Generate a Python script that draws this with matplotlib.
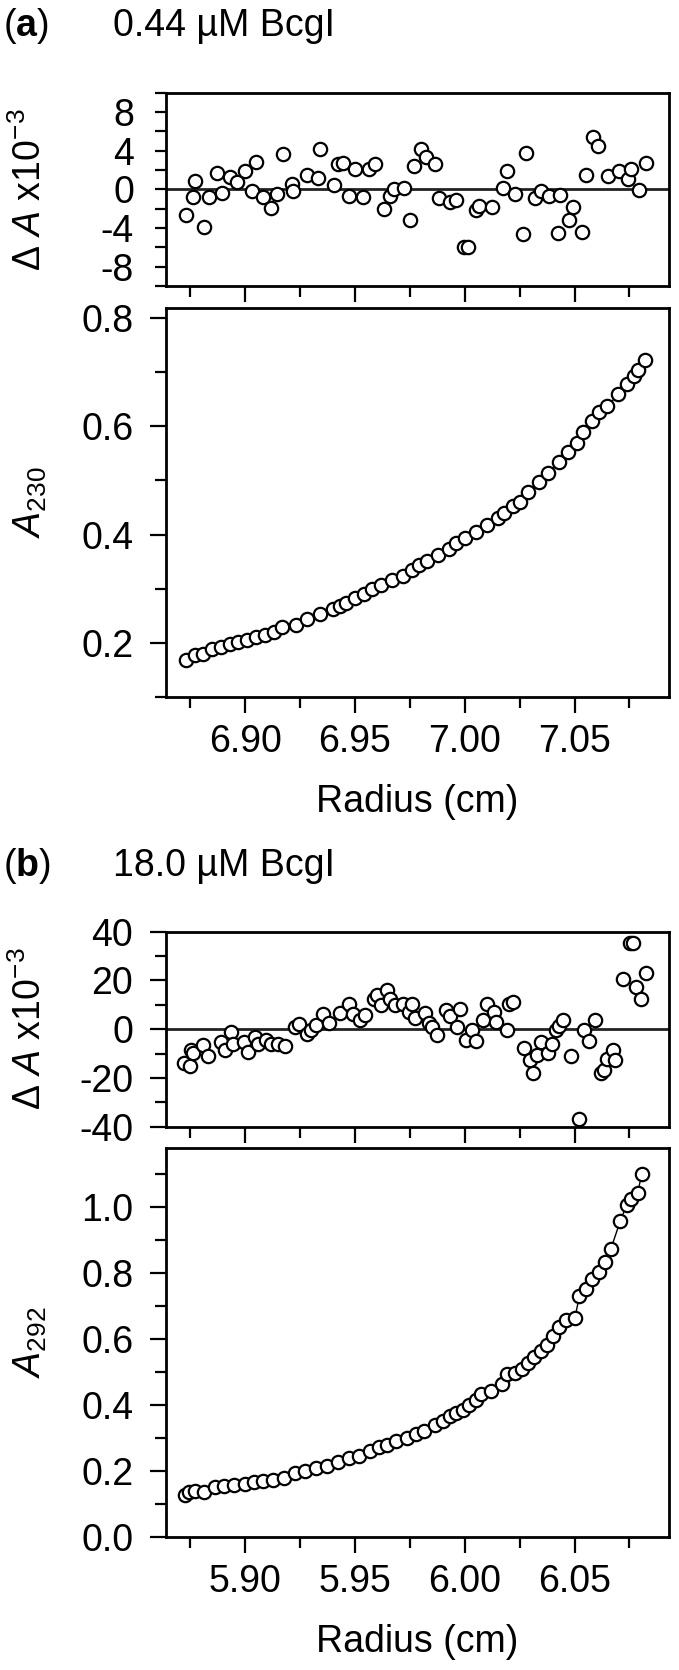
import numpy as np
import matplotlib
matplotlib.use("Agg")
import matplotlib.pyplot as plt
import matplotlib.ticker as ticker

plt.rcParams["font.family"] = ["Liberation Sans", "DejaVu Sans"]
plt.rcParams["mathtext.fontset"] = "custom"
plt.rcParams["mathtext.rm"] = "Liberation Sans"
plt.rcParams["mathtext.it"] = "Liberation Sans:italic"
plt.rcParams["mathtext.bf"] = "Liberation Sans:bold"
plt.rcParams["axes.unicode_minus"] = False

FS = 27

# ---- panel (a): 0.44 uM BcgI, A230 ----
res_a_r = [6.8730, 6.8772, 6.8764, 6.8815, 6.8837, 6.8871, 6.8895, 6.8932, 6.8962, 6.9001,
           6.9031, 6.9049, 6.9083, 6.9119, 6.9144, 6.9172, 6.9212, 6.9220, 6.9281, 6.9334,
           6.9342, 6.9403, 6.9425, 6.9445, 6.9471, 6.9501, 6.9539, 6.9562, 6.9593, 6.9634,
           6.9661, 6.9676, 6.9725, 6.9752, 6.9770, 6.9801, 6.9825, 6.9863, 6.9881, 6.9931,
           6.9962, 6.9995, 7.0015, 7.0053, 7.0066, 7.0124, 7.0174, 7.0192, 7.0231, 7.0264,
           7.0281, 7.0322, 7.0345, 7.0383, 7.0424, 7.0436, 7.0474, 7.0494, 7.0532, 7.0554,
           7.0585, 7.0606, 7.0651, 7.0702, 7.0743, 7.0755, 7.0793, 7.0826]
res_a_v = [-2.68, 0.87, -0.77, -3.90, -0.80, 1.63, -0.35, 1.28, 0.76, 1.91,
           -0.18, 2.78, -0.77, -1.92, -0.52, 3.65, 0.58, -0.18, 1.49, 1.15,
           4.17, 0.45, 2.60, 2.67, -0.70, 2.09, -0.80, 2.09, 2.61, -2.09,
           -0.70, 0.00, 0.10, -3.13, 2.36, 4.17, 3.37, 2.60, -0.94, -1.29,
           -1.12, -5.92, -5.92, -2.19, -1.74, -1.81, 0.10, 1.84, -0.52, -4.63,
           3.72, -0.94, -0.18, -0.70, -4.53, -0.63, -3.13, -1.81, -4.42, 1.49,
           5.39, 4.52, 1.39, 1.84, 1.04, 2.09, -0.07, 2.71]

abs_a_r = [6.873, 6.877, 6.881, 6.885, 6.889, 6.893, 6.897, 6.901, 6.905, 6.909,
           6.913, 6.917, 6.923, 6.928, 6.934, 6.940, 6.943, 6.946, 6.950, 6.954,
           6.958, 6.962, 6.967, 6.972, 6.976, 6.979, 6.983, 6.988, 6.993, 6.996,
           7.000, 7.005, 7.010, 7.015, 7.018, 7.022, 7.025, 7.029, 7.034, 7.038,
           7.043, 7.047, 7.051, 7.054, 7.058, 7.061, 7.065, 7.070, 7.074, 7.077,
           7.079, 7.082]
abs_a_v = [0.169, 0.177, 0.180, 0.188, 0.192, 0.197, 0.201, 0.205, 0.210, 0.215,
           0.220, 0.230, 0.233, 0.244, 0.254, 0.263, 0.269, 0.274, 0.283, 0.291,
           0.299, 0.307, 0.316, 0.324, 0.334, 0.344, 0.352, 0.363, 0.373, 0.384,
           0.393, 0.405, 0.417, 0.430, 0.439, 0.453, 0.461, 0.479, 0.498, 0.514,
           0.534, 0.552, 0.570, 0.589, 0.610, 0.627, 0.637, 0.660, 0.678, 0.693,
           0.704, 0.723]

# ---- panel (b): 18.0 uM BcgI, A292 ----
res_b_r = [5.8724, 5.8750, 5.8754, 5.8764, 5.8809, 5.8829, 5.8892, 5.8907, 5.8935, 5.8947,
           5.8994, 5.9014, 5.9045, 5.9059, 5.9093, 5.9118, 5.9148, 5.9181, 5.9226, 5.9246,
           5.9281, 5.9301, 5.9321, 5.9354, 5.9384, 5.9433, 5.9472, 5.9492, 5.9522, 5.9545,
           5.9585, 5.9600, 5.9620, 5.9644, 5.9659, 5.9683, 5.9718, 5.9748, 5.9758, 5.9773,
           5.9817, 5.9836, 5.9852, 5.9876, 5.9915, 5.9935, 5.9964, 5.9978, 6.0004, 6.0033,
           6.0053, 6.0082, 6.0102, 6.0132, 6.0141, 6.0191, 6.0201, 6.0220, 6.0269, 6.0299,
           6.0309, 6.0328, 6.0348, 6.0378, 6.0397, 6.0417, 6.0431, 6.0447, 6.0482, 6.0519,
           6.0545, 6.0565, 6.0594, 6.0620, 6.0634, 6.0648, 6.0673, 6.0683, 6.0722, 6.0752,
           6.0765, 6.0781, 6.0801, 6.0824]
res_b_v = [-14.0, -15.1, -8.6, -9.9, -6.5, -11.0, -5.2, -8.6, -1.1, -5.9,
           -5.2, -9.3, -3.1, -5.9, -4.5, -5.9, -6.1, -6.9, 0.7, 2.3,
           -1.8, -0.4, 1.6, 6.4, 2.6, 6.7, 10.5, 6.1, 3.7, 5.7,
           12.5, 13.9, 9.8, 15.9, 12.5, 9.8, 10.5, 7.1, 10.5, 4.4,
           6.7, 2.6, 1.0, -2.4, 7.8, 5.3, 1.0, 8.4, -4.5, -0.4,
           -4.8, 3.7, 10.5, 7.1, 3.0, -0.4, 10.5, 11.2, -7.9, -12.7,
           -18.1, -10.6, -5.2, -9.7, -5.9, -0.4, 1.2, 3.9, -11.0, -37.0,
           -0.4, -4.9, 3.7, -18.1, -16.7, -12.4, -8.6, -12.7, 20.7, 35.2,
           35.2, 17.3, 12.2, 23.1]

abs_b_r = [5.8725, 5.8745, 5.8774, 5.8813, 5.8863, 5.8902, 5.8951, 5.9000, 5.9039, 5.9082,
           5.9128, 5.9177, 5.9226, 5.9275, 5.9324, 5.9373, 5.9422, 5.9471, 5.9520, 5.9569,
           5.9609, 5.9648, 5.9687, 5.9736, 5.9776, 5.9815, 5.9864, 5.9903, 5.9933, 5.9962,
           5.9992, 6.0021, 6.0050, 6.0076, 6.0119, 6.0168, 6.0194, 6.0227, 6.0261, 6.0286,
           6.0316, 6.0345, 6.0374, 6.0404, 6.0429, 6.0463, 6.0502, 6.0522, 6.0551, 6.0581,
           6.0610, 6.0640, 6.0665, 6.0708, 6.0738, 6.0757, 6.0787, 6.0806]
abs_b_v = [0.127, 0.135, 0.139, 0.135, 0.150, 0.155, 0.157, 0.161, 0.166, 0.168,
           0.172, 0.177, 0.194, 0.199, 0.208, 0.216, 0.227, 0.238, 0.246, 0.260,
           0.271, 0.277, 0.290, 0.299, 0.312, 0.321, 0.338, 0.351, 0.366, 0.377,
           0.386, 0.399, 0.416, 0.434, 0.443, 0.465, 0.493, 0.496, 0.510, 0.526,
           0.545, 0.565, 0.582, 0.609, 0.637, 0.659, 0.665, 0.731, 0.753, 0.781,
           0.803, 0.833, 0.873, 0.958, 1.008, 1.025, 1.042, 1.102]

W, H = 679, 1670
LEFT, RIGHT = 166, 669
MARK = dict(marker="o", ms=9.6, mfc="white", mec="black", mew=1.6, ls="none", zorder=3)


def px_axes(fig, top, bottom):
    return fig.add_axes([LEFT / W, 1 - bottom / H, (RIGHT - LEFT) / W, (bottom - top) / H])


def style(ax, x0, xlim, ylim, ymaj, ymin, fmt, xlabels):
    ax.set_xlim(*xlim)
    ax.set_ylim(*ylim)
    ax.xaxis.set_major_locator(ticker.FixedLocator([x0 + 0.05 * i for i in range(4)]))
    ax.xaxis.set_minor_locator(ticker.FixedLocator([x0 - 0.025 + 0.05 * i for i in range(5)]))
    ax.yaxis.set_major_locator(ticker.FixedLocator(ymaj))
    ax.yaxis.set_minor_locator(ticker.FixedLocator(ymin))
    ax.yaxis.set_major_formatter(ticker.FormatStrFormatter(fmt))
    ax.xaxis.set_major_formatter(ticker.FormatStrFormatter("%.2f"))
    ax.tick_params(which="both", direction="out", width=1.6, top=False, right=False,
                   labelsize=FS)
    ax.tick_params(axis="x", pad=8)
    ax.tick_params(axis="y", pad=12)
    ax.tick_params(which="major", length=11.5)
    ax.tick_params(which="minor", length=8)
    if not xlabels:
        ax.tick_params(axis="x", labelbottom=False)
    for spine in ax.spines.values():
        spine.set_linewidth(2.0)


def residual(ax, r, v):
    ax.axhline(0, color="#222222", lw=2.0, zorder=1)
    ax.plot(r, v, **MARK)
    ax.set_ylabel(r"$\Delta$ $\mathit{A}$ x10$^{-3}$", fontsize=FS)
    ax.yaxis.set_label_coords(-0.232, 0.5)


def absorb(ax, r, v, sub):
    ax.plot(r, v, "-", color="black", lw=1.0, zorder=2)
    ax.plot(r, v, **MARK)
    ax.set_ylabel(r"$\mathit{A}_{\mathrm{%s}}$" % sub, fontsize=FS)
    ax.yaxis.set_label_coords(-0.232, 0.5)
    ax.set_xlabel("Radius (cm)", fontsize=FS)
    ax.xaxis.set_label_coords(0.5, -0.225)


def main():
    fig = plt.figure(figsize=(W / 100, H / 100), dpi=100)

    # (a)
    fig.text(3 / W, 1 - 26 / H, r"($\mathbf{a}$)", fontsize=FS, va="center")
    fig.text(113 / W, 1 - 26 / H, "0.44 µM BcgI", fontsize=FS, va="center")
    ax = px_axes(fig, 92.5, 286)
    residual(ax, res_a_r, res_a_v)
    style(ax, 6.90, (6.864, 7.093), (-10, 10), [-8, -4, 0, 4, 8],
          [-10, -6, -2, 2, 6, 10], "%d", False)
    ax.tick_params(axis="y", which="major", length=8, pad=15)
    ax = px_axes(fig, 308.3, 697)
    absorb(ax, abs_a_r, abs_a_v, "230")
    style(ax, 6.90, (6.864, 7.093), (0.1, 0.818), [0.2, 0.4, 0.6, 0.8],
          [0.1, 0.3, 0.5, 0.7], "%.1f", True)

    # (b)
    fig.text(3 / W, 1 - 866 / H, r"($\mathbf{b}$)", fontsize=FS, va="center")
    fig.text(113 / W, 1 - 866 / H, "18.0 µM BcgI", fontsize=FS, va="center")
    ax = px_axes(fig, 931.7, 1126.7)
    residual(ax, res_b_r, res_b_v)
    style(ax, 5.90, (5.864, 6.093), (-40, 40), [-40, -20, 0, 20, 40],
          [-30, -10, 10, 30], "%d", False)
    ax = px_axes(fig, 1148.3, 1536.7)
    absorb(ax, abs_b_r, abs_b_v, "292")
    style(ax, 5.90, (5.864, 6.093), (0.0, 1.179), [0.0, 0.2, 0.4, 0.6, 0.8, 1.0],
          [0.1, 0.3, 0.5, 0.7, 0.9, 1.1], "%.1f", True)

    fig.savefig("out.png", dpi=100)
    plt.close(fig)


if __name__ == "__main__":
    main()
